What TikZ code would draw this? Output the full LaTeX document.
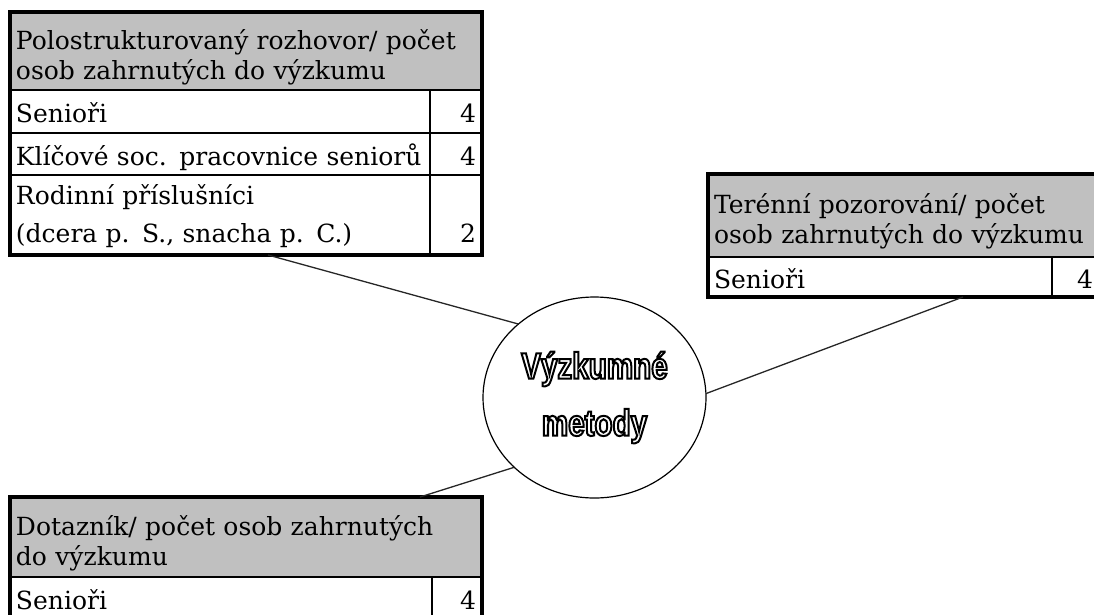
\documentclass[tikz,border=0pt]{standalone}
\usepackage{fontspec}
\setmainfont{DejaVu Serif}
\newfontfamily\metodyfont[FakeStretch=0.8]{Liberation Sans}
\usetikzlibrary{shapes.geometric}
\definecolor{headgray}{RGB}{192,192,192}
% hollow letters: stroke the glyph outlines only
\newcommand\hollow[1]{\special{pdf:literal direct 1 Tr 2 w}#1\special{pdf:literal direct 0 Tr}}

\begin{document}
\begin{tikzpicture}[x=1pt,y=-1pt,
    every node/.style={anchor=north west,inner xsep=6pt,inner ysep=0pt,outer sep=0pt,
      font=\fontsize{25}{30}\selectfont},
    hd/.style={draw,line width=2.5pt,fill=headgray,align=left,text height=32pt,minimum height=#1},
    cell/.style={draw,line width=1.2pt,fill=white,align=left,text height=26pt,text depth=4pt,minimum height=#1},
    num/.style={draw,line width=1.2pt,fill=white,align=right,text height=26pt,text depth=4pt,minimum height=#1},
    twolines/.style={text height=23pt,text depth=44pt},
    tblframe/.style={draw,line width=3.5pt},
    spoke/.style={draw,line width=1.3pt,black!85}]
  \useasboundingbox (0,0) rectangle (1094,614);
  \clip (0,0) rectangle (1094,614);

  % polostrukturovany rozhovor
  \node[hd=78pt,text width=460pt] (polo) at (10,12)
    {Polostrukturovaný rozhovor/ počet\\osob zahrnutých do výzkumu};
  \node[cell=43pt,text width=408pt] (polo-a) at (10,90) {Senioři};
  \node[num=43pt,text width=40pt] (polo-an) at (430,90) {4};
  \node[cell=42pt,text width=408pt] (polo-b) at (10,133) {Klíčové soc. pracovnice seniorů};
  \node[num=42pt,text width=40pt] (polo-bn) at (430,133) {4};
  \node[cell=80pt,twolines,text width=408pt] (polo-c) at (10,175)
    {Rodinní příslušníci\\[8pt](dcera p. S., snacha p. C.)};
  \node[num=80pt,twolines,text width=40pt] (polo-cn) at (430,175)
    {\vphantom{Rodinní}\\[8pt]2\vphantom{(}};
  \draw[tblframe] (polo.north west) rectangle (polo-cn.south east);

  % terenni pozorovani
  \node[hd=83pt,text width=379pt] (tere) at (708,174)
    {Terénní pozorování/ počet\\osob zahrnutých do výzkumu};
  \node[cell=40pt,text width=332pt] (tere-a) at (708,257) {Senioři};
  \node[num=40pt,text width=35pt] (tere-an) at (1052,257) {4};
  \draw[tblframe] (tere.north west) rectangle (tere-an.south east);

  % dotaznik
  \node[hd=80pt,text width=460pt] (dot) at (10,497)
    {Dotazník/ počet osob zahrnutých\\do výzkumu};
  \node[cell=43pt,text width=410pt] (dot-a) at (10,577) {Senioři};
  \node[num=43pt,text width=38pt] (dot-an) at (432,577) {4};
  \draw[tblframe] (dot.north west) rectangle (dot-an.south east);

  \node[ellipse,draw,line width=1.2pt,minimum width=223pt,minimum height=201pt,
    inner sep=0pt,anchor=center,align=center,
    font=\metodyfont\bfseries\fontsize{37}{57}\selectfont] (metody) at (594.5,397.5)
    {\hollow{Výzkumné}\\\hollow{metody}};

  \draw[spoke] ([xshift=258pt]polo-c.south west) -- (metody.136);
  \draw[spoke] (metody.2) -- ([xshift=255pt]tere-a.south west);
  \draw[spoke] (metody.221) -- ([xshift=410pt]dot.north west);
\end{tikzpicture}
\end{document}
